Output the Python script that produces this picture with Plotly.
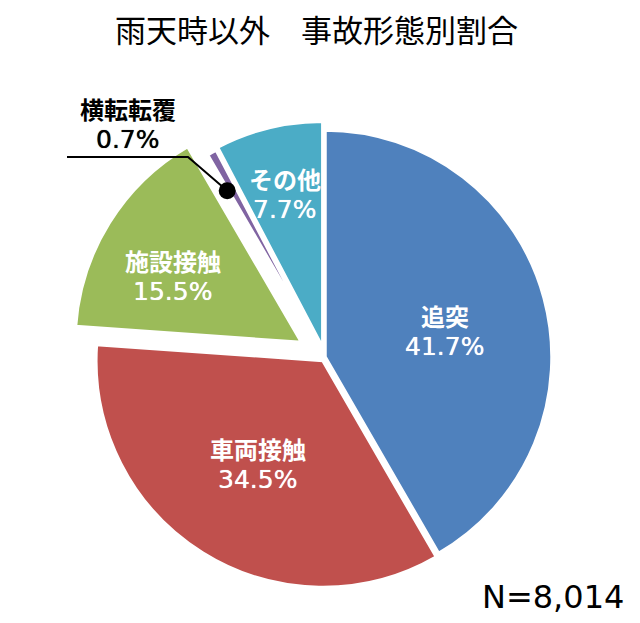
import math
import plotly.graph_objects as go

# ---- data ----
title_text = "雨天時以外　事故形態別割合"
categories = ["追突", "車両接触", "施設接触", "横転転覆", "その他"]
shares = [41.7, 34.5, 15.5, 0.7, 7.7]
n_label = "N=8,014"

# ---- styles / layout ----
colors = ["#4F81BD", "#C0504D", "#9BBB59", "#8064A2", "#4BACC6"]
pulls = [0.0, 0.018, 0.12, 0.03, 0.04]
label_frac = [0.54, 0.54, 0.64, 0.82, 0.70]   # radial position of labels (fraction of r)
label_tweak = [3, 0, -4, -1.5, 0]             # angular tweak (deg)
W, H = 640, 623
CX, CY, R = 325, 357, 227
FONT = "Noto Sans CJK JP"
NUM_FONT = "DejaVu Sans"
LINE_GAP = 31

max_pull = max(pulls)
half = R * (1 + max_pull)
domain_x = [(CX - half) / W, (CX + half) / W]
domain_y = [1 - (CY + half) / H, 1 - (CY - half) / H]


def px2paper(px, py):
    return px / W, 1 - py / H


total = sum(shares)
mids = []
cum = 0.0
for v in shares:
    mids.append((cum + v / 2) / total * 360)
    cum += v


def slice_point(i, frac, tweak=0.0):
    a = math.radians(mids[i] + tweak)
    rad = frac * R + pulls[i] * R
    return CX + rad * math.sin(a), CY - rad * math.cos(a)


fig = go.Figure(go.Pie(
    labels=categories,
    values=shares,
    sort=False,
    direction="clockwise",
    rotation=0,
    pull=pulls,
    textinfo="none",
    hoverinfo="label+value",
    marker=dict(colors=colors, line=dict(color="white", width=3.5)),
    domain=dict(x=domain_x, y=domain_y),
    showlegend=False,
))

annotations = []
shapes = []


def add_label(cx_px, cy_px, name, pct, color):
    x, y = px2paper(cx_px, cy_px - LINE_GAP / 2)
    annotations.append(dict(
        x=x, y=y, xref="paper", yref="paper", xanchor="center", yanchor="middle",
        text=f"<b>{name}</b>", showarrow=False,
        font=dict(family=FONT, size=24, color=color),
    ))
    x, y = px2paper(cx_px, cy_px + LINE_GAP / 2)
    annotations.append(dict(
        x=x, y=y, xref="paper", yref="paper", xanchor="center", yanchor="middle",
        text=f"{pct:.1f}%", showarrow=False,
        font=dict(family=NUM_FONT, size=25, color=color,
                  shadow=f"0 0 0.7px {color}"),
    ))


# slice labels (white)
for i, (cat, v) in enumerate(zip(categories, shares)):
    if i == 3:
        continue
    px, py = slice_point(i, label_frac[i], label_tweak[i])
    add_label(px, py, cat, v, "white")

# small slice (横転転覆) with leader line
dpx, dpy = slice_point(3, label_frac[3], label_tweak[3])
elbow = (188, 157)
end = (67, 157)
dot_r = 8.5
x0, y0 = px2paper(dpx - dot_r, dpy + dot_r)
x1, y1 = px2paper(dpx + dot_r, dpy - dot_r)
ex, ey = px2paper(*elbow)
enx, eny = px2paper(*end)
dx, dy = px2paper(dpx, dpy)
shapes.append(dict(type="path", xref="paper", yref="paper",
                   path=f"M {dx} {dy} L {ex} {ey} L {enx} {eny}",
                   line=dict(color="black", width=2)))
shapes.append(dict(type="circle", xref="paper", yref="paper",
                   x0=x0, y0=y0, x1=x1, y1=y1,
                   fillcolor="black", line=dict(color="black", width=0)))
add_label(128, 124, categories[3], shares[3], "black")

# title
tx, ty = px2paper(316, 28)
annotations.append(dict(
    x=tx, y=ty, xref="paper", yref="paper", xanchor="center", yanchor="middle",
    text=title_text, showarrow=False,
    font=dict(family=FONT, size=31, color="black"),
))

# N label
nx, ny = px2paper(626, 597)
annotations.append(dict(
    x=nx, y=ny, xref="paper", yref="paper", xanchor="right", yanchor="middle",
    text=n_label, showarrow=False,
    font=dict(family=NUM_FONT, size=32, color="black"),
))

fig.update_layout(
    width=W, height=H,
    margin=dict(l=0, r=0, t=0, b=0),
    paper_bgcolor="white",
    plot_bgcolor="white",
    annotations=annotations,
    shapes=shapes,
)

fig.write_html("out.html", config={"displayModeBar": False},
               post_script="document.body.style.margin='0';")
